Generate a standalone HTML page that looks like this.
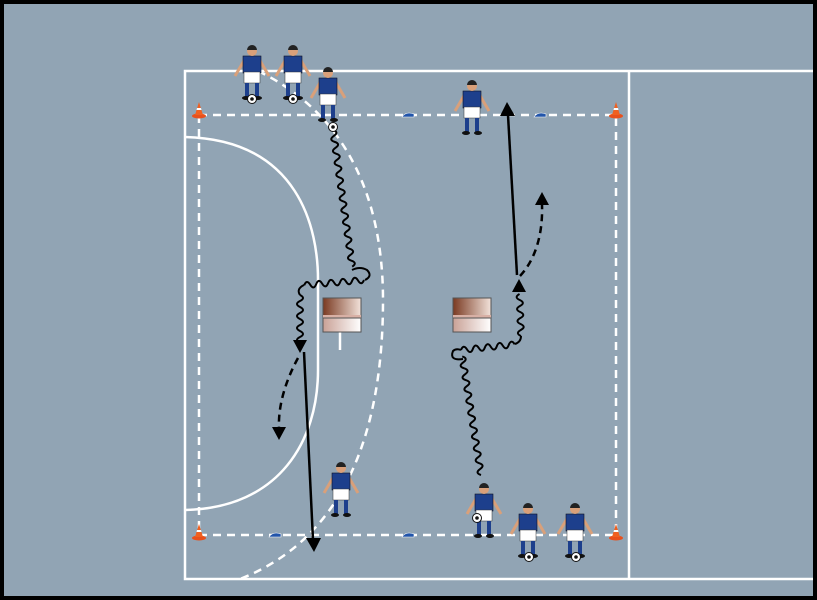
<!DOCTYPE html>
<html><head><style>html,body{margin:0;padding:0;background:#000}svg{display:block}</style></head><body>
<svg width="817" height="600" viewBox="0 0 817 600" xmlns="http://www.w3.org/2000/svg">
<defs>
<linearGradient id="bx" x1="0" x2="1"><stop offset="0" stop-color="#7a3a22"/><stop offset="1" stop-color="#f2e2da"/></linearGradient>
<linearGradient id="bx2" x1="0" x2="1"><stop offset="0" stop-color="#c9a196"/><stop offset="1" stop-color="#ffffff"/></linearGradient>
<g id="pl">
<line x1="-7" y1="14" x2="-17" y2="31" stroke="#d9a07a" stroke-width="3"/>
<line x1="7" y1="14" x2="17" y2="31" stroke="#d9a07a" stroke-width="3"/>
<rect x="-9" y="11" width="18" height="17" fill="#1d3f8c" stroke="#112" stroke-width=".6"/>
<circle cx="0" cy="6" r="5" fill="#d9a07a"/>
<path d="M-5,5 a5,5 0 0 1 10,0 z" fill="#222"/>
<rect x="-8" y="27" width="16" height="11" fill="#fff" stroke="#333" stroke-width=".5"/>
<rect x="-7" y="38" width="4" height="14" fill="#1d3f8c"/>
<rect x="3" y="38" width="4" height="14" fill="#1d3f8c"/>
<ellipse cx="-6" cy="53" rx="4" ry="2" fill="#111"/>
<ellipse cx="6" cy="53" rx="4" ry="2" fill="#111"/>
</g>
<g id="ball"><circle r="4.5" fill="#fff" stroke="#111" stroke-width="1"/><circle r="1.8" fill="#111"/></g>
<g id="cone"><ellipse cx="0" cy="6" rx="7" ry="2.5" fill="#e8501c"/><path d="M-4,5 L0,-8 L4,5 Z" fill="#f06020"/><path d="M-2.5,0 L2.5,0 L2,-2 L-2,-2Z" fill="#fff"/></g>
<g id="mk"><path d="M-6,2 Q-2,-4 6,-1 L6,2 Z" fill="#2255aa" stroke="#fff" stroke-width=".6"/></g>
</defs>
<rect x="0" y="0" width="817" height="600" fill="#000"/>
<rect x="4" y="4" width="809" height="592" fill="#91a4b4"/>
<g stroke="#fff" stroke-width="2.5" fill="none">
<path d="M813,71 H185 V579 H813"/>
<line x1="629" y1="71" x2="629" y2="579"/>
<path d="M185,137 C300,140 318,230 318,280 V370 C318,440 280,508 185,510"/>
</g>
<g stroke="#fff" stroke-width="2.5" fill="none" stroke-dasharray="8,6">
<rect x="199" y="115" width="417" height="420"/>
<path d="M258,71 C360,120 383,220 383,300 C383,440 340,540 240,579"/>
</g>
<line x1="340" y1="332" x2="340" y2="350" stroke="#fff" stroke-width="2.5"/>
<rect x="323" y="298" width="38" height="19" fill="url(#bx)" stroke="#555"/>
<rect x="323" y="315" width="38" height="3" fill="#d8b0a5"/>
<rect x="323" y="318" width="38" height="14" fill="url(#bx2)" stroke="#555"/>
<rect x="453" y="298" width="38" height="19" fill="url(#bx)" stroke="#555"/>
<rect x="453" y="315" width="38" height="3" fill="#d8b0a5"/>
<rect x="453" y="318" width="38" height="14" fill="url(#bx2)" stroke="#555"/>
<use href="#cone" x="199" y="110"/><use href="#cone" x="616" y="110"/>
<use href="#cone" x="199" y="532"/><use href="#cone" x="616" y="532"/>
<use href="#mk" x="408" y="115"/><use href="#mk" x="540" y="115"/>
<use href="#mk" x="275" y="535"/><use href="#mk" x="408" y="535"/>
<g fill="none" stroke="#000" stroke-width="2">
<g transform="translate(333,130) rotate(82)"><path d="M0,0 q3,-6 6,0 t6,0 t6,0 t6,0 t6,0 t6,0 t6,0 t6,0 t6,0 t6,0 t6,0 t6,0 t6,0 t6,0 t6,0 t6,0 t6,0 t6,0 t6,0 t6,0 t6,0 t6,0 t6,0"/></g>
<path d="M352,270 q8,-4 15,0 q6,6 -2,10"/>
<g transform="translate(364,280) rotate(175)"><path d="M0,0 q3,-6 6,0 t6,0 t6,0 t6,0 t6,0 t6,0 t6,0 t6,0 t6,0 t6,0"/></g>
<path d="M304,285 q-8,4 -4,10"/>
<g transform="translate(300,295) rotate(90)"><path d="M0,0 q3,-6 6,0 t6,0 t6,0 t6,0 t6,0 t6,0 t6,0 t6,0"/></g>
<g transform="translate(481,475) rotate(-99)"><path d="M0,0 q3,-6 6,0 t6,0 t6,0 t6,0 t6,0 t6,0 t6,0 t6,0 t6,0 t6,0 t6,0 t6,0 t6,0 t6,0 t6,0 t6,0 t6,0 t6,0 t6,0 t6,0"/></g>
<path d="M463,359 q-14,2 -10,-8 q3,-3 8,-1"/>
<g transform="translate(461,350) rotate(-6)"><path d="M0,0 q3,-6 6,0 t6,0 t6,0 t6,0 t6,0 t6,0 t6,0 t6,0 t6,0"/></g>
<path d="M515,344 q6,-2 6,-8"/>
<g transform="translate(521,336) rotate(-92)"><path d="M0,0 q3,-6 6,0 t6,0 t6,0 t6,0 t6,0 t6,0 t6,0"/></g>
</g>
<path d="M293,340 L307,340 L300,353 Z" fill="#000"/>
<path d="M512,292 L526,292 L519,279 Z" fill="#000"/>
<line x1="304" y1="352" x2="313" y2="540" stroke="#000" stroke-width="2.5"/>
<path d="M306,538 L321,538 L314,552 Z" fill="#000"/>
<line x1="517" y1="275" x2="508" y2="115" stroke="#000" stroke-width="2.5"/>
<path d="M500,116 L515,116 L507,102 Z" fill="#000"/>
<path d="M298,358 C286,380 278,405 279,428" fill="none" stroke="#000" stroke-width="2.5" stroke-dasharray="7,5"/>
<path d="M272,427 L286,427 L279,440 Z" fill="#000"/>
<path d="M520,276 C535,260 543,235 542,205" fill="none" stroke="#000" stroke-width="2.5" stroke-dasharray="7,5"/>
<path d="M535,205 L549,205 L542,192 Z" fill="#000"/>
<use href="#pl" x="252" y="45"/><use href="#pl" x="293" y="45"/>
<use href="#pl" x="328" y="67"/><use href="#pl" x="472" y="80"/>
<use href="#pl" x="341" y="462"/><use href="#pl" x="484" y="483"/>
<use href="#pl" x="528" y="503"/><use href="#pl" x="575" y="503"/>
<use href="#ball" x="252" y="99"/><use href="#ball" x="293" y="99"/>
<use href="#ball" x="333" y="127"/><use href="#ball" x="477" y="518"/>
<use href="#ball" x="529" y="557"/><use href="#ball" x="576" y="557"/>
</svg>
</body></html>
